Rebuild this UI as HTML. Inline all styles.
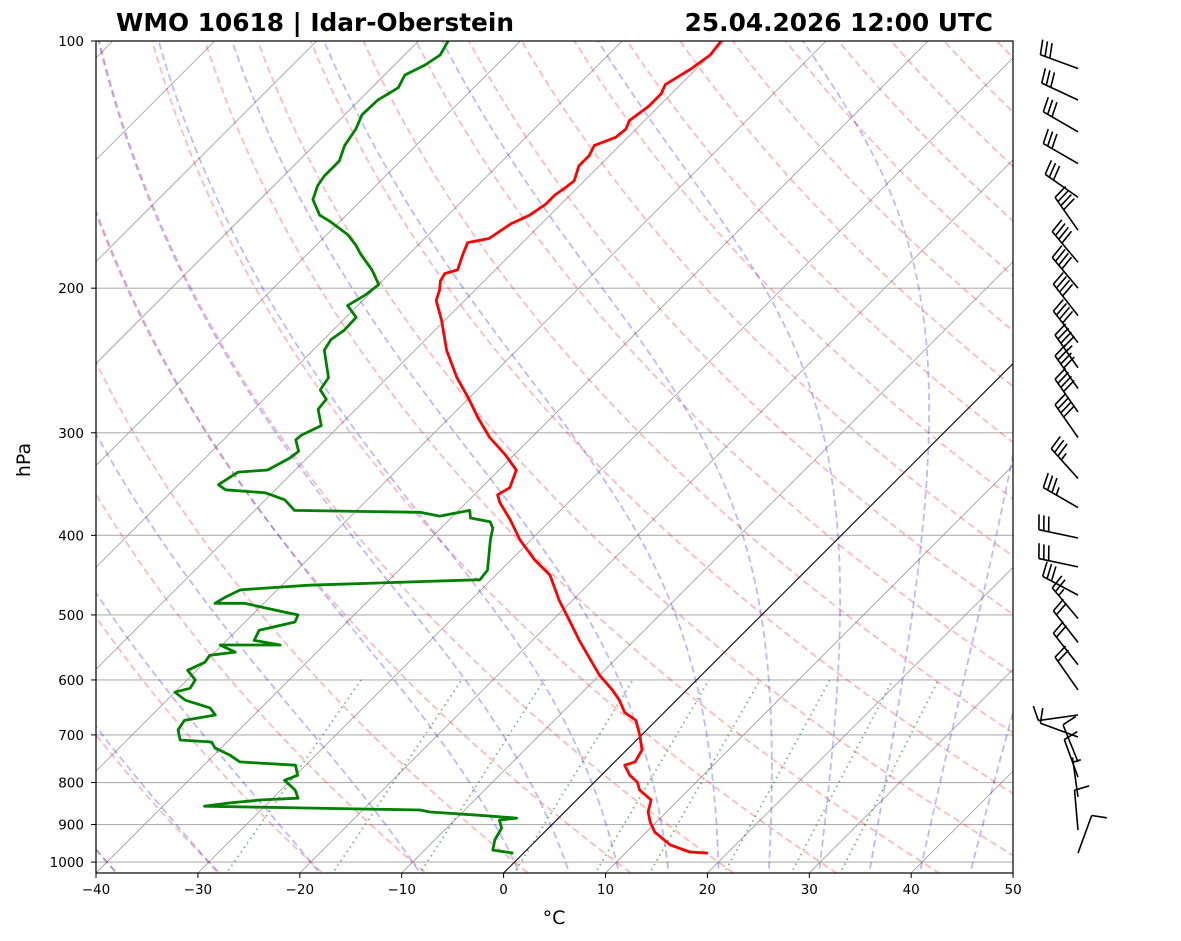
<!DOCTYPE html>
<html><head><meta charset="utf-8"><style>
html,body{margin:0;padding:0;background:#fff;}
svg{display:block;font-family:"DejaVu Sans","Liberation Sans",sans-serif;}
</style></head><body>
<svg id="chart" width="1181" height="941" viewBox="0 0 1181 941" xmlns="http://www.w3.org/2000/svg">
<defs><clipPath id="pc"><rect x="96" y="41" width="917" height="832"/></clipPath></defs>
<rect width="1181" height="941" fill="#fff"/>
<g id="bg" clip-path="url(#pc)"></g>
<g id="prof" clip-path="url(#pc)"></g>
<rect x="96" y="41" width="917" height="832" fill="none" stroke="#000" stroke-width="1.2"/>
<g id="axes"></g>
<g id="barbs" stroke="#000" stroke-width="1.6" fill="none"></g>
<text x="116" y="31" font-size="24.8" font-weight="bold">WMO 10618 | Idar-Oberstein</text>
<text x="993" y="31" font-size="24.8" font-weight="bold" text-anchor="end">25.04.2026 12:00 UTC</text>
<text x="30" y="460" font-size="19" text-anchor="middle" transform="rotate(-90 30 460)">hPa</text>
<text x="554" y="924" font-size="19" text-anchor="middle">°C</text>
</svg>
<script>
const tempP=[975,972,953,919,894,869,840,817,799,784,762,755,730,700,672,657,635,617,592,567,537,510,480,447,429,405,383,365,357,350,333,319,304,287,272,257,238,219,207,201,196,192,190,182,176,174,167,163,158,154,151,148,142,138,134,131,128,125,120,116,113,108,104,100];
const tempT=[18.1,16.2,13.6,10.8,9.4,8.2,7.3,5.2,4.2,2.8,1.3,2.0,1.5,-0.2,-2.0,-3.9,-5.6,-7.3,-10.0,-12.4,-15.4,-18.1,-21.3,-24.7,-27.6,-31.1,-34.0,-36.7,-37.7,-37.2,-38.3,-40.9,-44.1,-47.3,-50.1,-53.2,-56.9,-60.3,-62.8,-63.5,-64.3,-64.6,-63.7,-64.7,-65.4,-63.7,-63.0,-62.0,-61.5,-61.5,-61.2,-61.0,-62.0,-62.0,-62.5,-61.2,-61.0,-61.5,-61.0,-61.0,-61.5,-60.5,-60.0,-60.3];
const dewP=[975,967,940,909,889,884,877,869,864,859,855,847,840,836,817,795,784,762,755,741,726,714,710,690,672,662,649,635,621,614,600,584,571,560,555,544,544,537,522,510,500,496,484,484,476,466,460,453,441,405,392,385,381,373,379,375,373,362,355,352,347,335,333,322,316,306,302,294,281,273,266,257,238,231,225,217,210,204,198,190,182,177,172,166,163,156,150,146,140,134,128,123,118,114,110,107,104,100];
const dewT=[-1.0,-3.3,-4.1,-4.6,-5.6,-4.1,-8.0,-13.2,-14.4,-26.4,-35.9,-33.7,-30.9,-27.5,-28.6,-30.6,-29.8,-31.0,-36.8,-38.4,-40.6,-41.5,-44.8,-46.0,-46.3,-43.8,-45.0,-48.2,-50.0,-48.9,-49.2,-50.9,-50.0,-50.2,-48.0,-50.2,-44.3,-47.3,-47.8,-45.1,-45.5,-47.1,-51.9,-54.8,-54.4,-53.6,-47.3,-31.1,-31.3,-34.0,-34.9,-35.8,-38.1,-38.9,-41.3,-43.6,-56.1,-58.1,-60.7,-64.9,-66.1,-65.4,-62.7,-61.7,-61.5,-62.9,-62.8,-61.8,-63.7,-63.9,-65.4,-65.8,-68.9,-69.3,-68.9,-69.0,-71.0,-70.3,-70.0,-72.1,-74.7,-76.2,-78.0,-80.9,-82.6,-84.8,-85.7,-86.0,-86.0,-87.0,-87.5,-88.3,-88.2,-87.4,-88.0,-87.0,-86.5,-87.1];
const barbP=[108,118,129,141,155,170,186,200,216,233,250,265,283,304,341,370,403,437,473,505,540,575,617,662,704,755,788,833,914,975];
const barbDir=[290,295,300,300,305,325,320,320,322,322,325,325,325,325,318,300,282,282,298,320,322,322,325,262,290,338,340,352,355,20];
const barbSpd=[30,30,30,30,30,40,40,40,40,40,45,40,40,40,35,35,30,30,30,25,20,20,20,10,10,10,10,5,10,10];
const pTicks=[100,200,300,400,500,600,700,800,900,1000];
const tTicks=[-40,-30,-20,-10,0,10,20,30,40,50];
const dryT0=[-40,-30,-20,-10,0,10,20,30,40,50,60,70,80,90,100,110,120,130,140,150,160,170,180,190,200];
const moistT0=[-50,-40,-30,-20,-10,0,5,10,15,20,25,30,35,40,45,50];
const mixW=[0.0004,0.001,0.002,0.004,0.007,0.01,0.016,0.024,0.032];

const NS='http://www.w3.org/2000/svg';
const YB=873;
function yP(p){return 41+356.6*Math.log(p/100);}
function xT(T,p){return 96+(T+40)*10.19+(YB-yP(p));}
function mk(tag,attrs,parent){const e=document.createElementNS(NS,tag);for(const k in attrs)e.setAttribute(k,attrs[k]);parent.appendChild(e);return e;}
function pts(arrP,arrT){return arrP.map((p,i)=>xT(arrT[i],p).toFixed(1)+','+yP(p).toFixed(1)).join(' ');}
const bg=document.getElementById('bg'),prof=document.getElementById('prof'),axes=document.getElementById('axes'),barbs=document.getElementById('barbs');
const pl=[];for(let i=0;i<=120;i++){pl.push(1050*Math.pow(100/1050,i/120));}

pTicks.forEach(p=>{const l=mk('line',{x1:96,x2:1013,y1:yP(p),y2:yP(p),stroke:'#b0b0b0','stroke-width':1.1},bg);

});
for(let T=-150;T<=50;T+=10){const l=mk('line',{x1:xT(T,1050),y1:yP(1050),x2:xT(T,100),y2:yP(100),stroke:T===0?'#000':'#999','stroke-width':T===0?1.1:0.8},bg);

}
dryT0.forEach(t0=>{const th=t0+273.15;const T=pl.map(p=>th*Math.pow(p/1000,0.2857)-273.15);
const e=mk('polyline',{points:pts(pl,T),fill:'none',stroke:'rgba(255,0,0,0.27)','stroke-width':1.8,'stroke-dasharray':'7,4'},bg);

});
function esat(Tc){return 6.112*Math.exp(17.67*Tc/(Tc+243.5));}
function dTdp(p,T){const Rd=287.04,Cp=1005.7,Lv=2.501e6,eps=0.622;const es=esat(T-273.15);const rs=eps*es/(p-es);
return (Rd*T+Lv*rs)/(Cp+Lv*Lv*rs*eps/(Rd*T*T))/p;}
function integ(T0,p0,p1,n){let T=T0,p=p0;const h=(p1-p0)/n;const out=[[p,T]];for(let i=0;i<n;i++){const k1=dTdp(p,T),k2=dTdp(p+h/2,T+h/2*k1),k3=dTdp(p+h/2,T+h/2*k2),k4=dTdp(p+h,T+h*k3);T+=h/6*(k1+2*k2+2*k3+k4);p+=h;out.push([p,T]);}return out;}
moistT0.forEach(t0=>{const up=integ(t0+273.15,1000,100,180);const dn=integ(t0+273.15,1000,1050,10).reverse();const all=dn.concat(up.slice(1));
const e=mk('polyline',{points:all.map(a=>xT(a[1]-273.15,a[0]).toFixed(1)+','+yP(a[0]).toFixed(1)).join(' '),fill:'none',stroke:'rgba(0,0,255,0.27)','stroke-width':1.8,'stroke-dasharray':'7,4'},bg);

});
mixW.forEach(w=>{const pp=[1050,600];const T=pp.map(p=>{const e=p*w/(0.622+w);const l=Math.log(e/6.112);return 243.5*l/(17.67-l);});
const e=mk('polyline',{points:pts(pp,T),fill:'none',stroke:'rgba(0,128,0,0.55)','stroke-width':1.8,'stroke-dasharray':'1.5,4'},bg);

});
const tl=mk('polyline',{points:pts(tempP,tempT),fill:'none',stroke:'#f00','stroke-width':2.8,'stroke-linejoin':'round'},prof);


const dl=mk('polyline',{points:pts(dewP,dewT),fill:'none',stroke:'#008000','stroke-width':2.8,'stroke-linejoin':'round'},prof);


pTicks.forEach(p=>{const y=yP(p);mk('line',{x1:91,x2:96,y1:y,y2:y,stroke:'#000','stroke-width':1},axes);
const t=mk('text',{x:84,y:y+5,'font-size':13.5,'text-anchor':'end'},axes);t.textContent=p;

});
tTicks.forEach(T=>{const x=96+(T+40)*10.19;mk('line',{x1:x,x2:x,y1:873,y2:878,stroke:'#000','stroke-width':1},axes);
const t=mk('text',{x:x,y:894,'font-size':13.5,'text-anchor':'middle'},axes);t.textContent=(T<0?'\u2212'+(-T):T);

});
barbP.forEach((p,i)=>{const bx=1078,by=yP(p);const a=barbDir[i]*Math.PI/180;const ux=Math.sin(a),uy=-Math.cos(a);const L=40;
const tx=bx+ux*L,ty=by+uy*L;const px=-uy,py=ux;
const g=mk('g',{},barbs);


mk('line',{x1:bx,y1:by,x2:tx,y2:ty},g);
let s=barbSpd[i];let k=0;const full=Math.floor(s/10);const half=(s%10)>=5;
for(let j=0;j<full;j++){const sx=tx-ux*k*5,sy=ty-uy*k*5;mk('line',{x1:sx,y1:sy,x2:sx+px*15+ux*3,y2:sy+py*15+uy*3},g);k++;}
if(half){if(full===0)k=1;const sx=tx-ux*k*5,sy=ty-uy*k*5;mk('line',{x1:sx,y1:sy,x2:sx+px*8+ux*1.5,y2:sy+py*8+uy*1.5},g);}
});
</script>
</body></html>
